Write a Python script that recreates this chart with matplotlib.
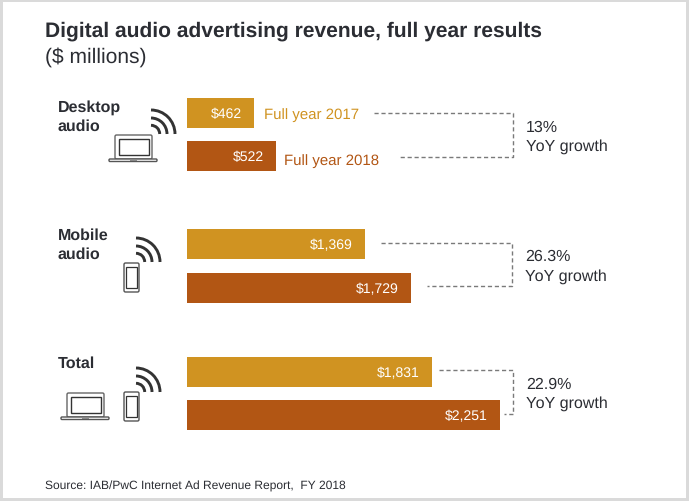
import matplotlib
matplotlib.use("Agg")
import matplotlib.pyplot as plt
from matplotlib.patches import Arc, FancyBboxPatch, Rectangle

plt.rcParams["font.family"] = ["Liberation Sans", "DejaVu Sans"]
plt.rcParams["text.hinting"] = "no_hinting"
plt.rcParams["text.hinting_factor"] = 1

# printed labels
value_labels_2017 = ["$462", "$1,369", "$1,831"]
value_labels_2018 = ["$522", "$1,729", "$2,251"]
growth_labels = ["13%", "26.3%", "22.9%"]
group_labels = ["Desktop\naudio", "Mobile\naudio", "Total"]

# bar lengths as drawn in the picture (it is not to scale with its labels),
# read in $ millions against the length of the $2,251 bar
bars_2017 = [482, 1281, 1763]
bars_2018 = [640, 1612, 2251]

GOLD = "#D09321"
RUST = "#B25614"
TEXT = "#2B2D33"
DASH = "#7A7A7A"
ICON = "#333333"

fig = plt.figure(figsize=(6.89, 5.02), dpi=100, facecolor="#DADADA")

# page area, axes in pixels
ax = fig.add_axes([0, 0, 1, 1])
ax.set_xlim(0, 689)
ax.set_ylim(502, 0)
ax.axis("off")
ax.add_patch(Rectangle((3, 3), 683, 496, fc="white", ec="none"))

# bars on their own x scale, y stays in pixels
ax_bars = fig.add_axes([187 / 689, 0, 502 / 689, 1])
ax_bars.set_xlim(0, 502 / 0.139)
ax_bars.set_ylim(502, 0)
ax_bars.axis("off")
ax_bars.patch.set_alpha(0)

y_2017 = [113.5, 245, 373]
y_2018 = [156.5, 288.5, 415.5]
ax_bars.barh(y_2017, bars_2017, height=30, color=GOLD)
ax_bars.barh(y_2018, bars_2018, height=30, color=RUST)

label_pad = 12
for y, v, lab in zip(y_2017, bars_2017, value_labels_2017):
    ax_bars.annotate(lab, (v, y + 1), xytext=(-label_pad, 0), textcoords="offset pixels",
                     color="white", fontsize=10, ha="right", va="center")
for y, v, lab in zip(y_2018, bars_2018, value_labels_2018):
    ax_bars.annotate(lab, (v, y + 1), xytext=(-label_pad, 0), textcoords="offset pixels",
                     color="white", fontsize=10, ha="right", va="center")

ax.text(45, 31, "Digital audio advertising revenue, full year results",
        fontsize=15.4, fontweight="bold", color=TEXT, va="center")
ax.text(45, 57, "($ millions)", fontsize=15, color=TEXT, va="center")
ax.text(264, 115.5, "Full year 2017", fontsize=11.1, color=GOLD, va="center")
ax.text(284, 161.5, "Full year 2018", fontsize=11.1, color=RUST, va="center")
ax.text(45, 486, "Source: IAB/PwC Internet Ad Revenue Report,  FY 2018",
        fontsize=8.65, color=TEXT, va="center")

ax.text(58, 117, group_labels[0], fontsize=11.7, fontweight="bold", color=TEXT,
        va="center", linespacing=1.4)
ax.text(58, 245, group_labels[1], fontsize=11.7, fontweight="bold", color=TEXT,
        va="center", linespacing=1.4)
ax.text(58, 364, group_labels[2], fontsize=11.7, fontweight="bold", color=TEXT, va="center")

# dashed brackets: left top, left bottom, right, top y, bottom y
brackets = [(374, 400, 513, 114, 158), (381, 427, 512, 244, 286.5), (439, 504, 513, 371, 415)]
for x_top, x_bot, x_r, y_t, y_b in brackets:
    ax.plot([x_top, x_r, x_r, x_bot], [y_t, y_t, y_b, y_b], color=DASH, lw=1,
            ls=(0, (3, 2)))

growth_pos = [(526, 137), (525, 266.5), (526, 394)]
for (x, y), g in zip(growth_pos, growth_labels):
    ax.text(x, y, g + "\nYoY growth", fontsize=11.5, color=TEXT, va="center", linespacing=1.4)


def waves(cx, cy):
    for r in (8.7, 16, 24):
        ax.add_patch(Arc((cx, cy), 2 * r, 2 * r, theta1=270, theta2=360, color=ICON, lw=2.1))


def laptop(x, y):
    # x, y is the top left of the lid
    ax.add_patch(FancyBboxPatch((x, y), 37, 24, boxstyle="round,pad=0,rounding_size=1.5",
                                fc="white", ec="#666666", lw=1))
    ax.add_patch(Rectangle((x + 4, y + 3.5), 29.5, 16.5, fc="white", ec=ICON, lw=1))
    ax.add_patch(FancyBboxPatch((x - 6, y + 24), 48, 2.5, boxstyle="round,pad=0,rounding_size=1",
                                fc="white", ec="#555555", lw=1))
    ax.add_patch(Rectangle((x + 15, y + 24), 7, 1.5, fc="#888888", ec="none"))


def phone(x, y):
    ax.add_patch(FancyBboxPatch((x, y), 15, 29, boxstyle="round,pad=0,rounding_size=1.5",
                                fc="white", ec="#555555", lw=1))
    ax.add_patch(Rectangle((x + 1.8, y + 3.5), 11.4, 21.5, fc="white", ec=ICON, lw=0.9))


laptop(115, 136)
waves(151, 135)
phone(124, 264)
waves(136, 263)
laptop(67, 394)
phone(124, 393)
waves(136, 393)

fig.savefig("out.png", dpi=100, facecolor=fig.get_facecolor())
